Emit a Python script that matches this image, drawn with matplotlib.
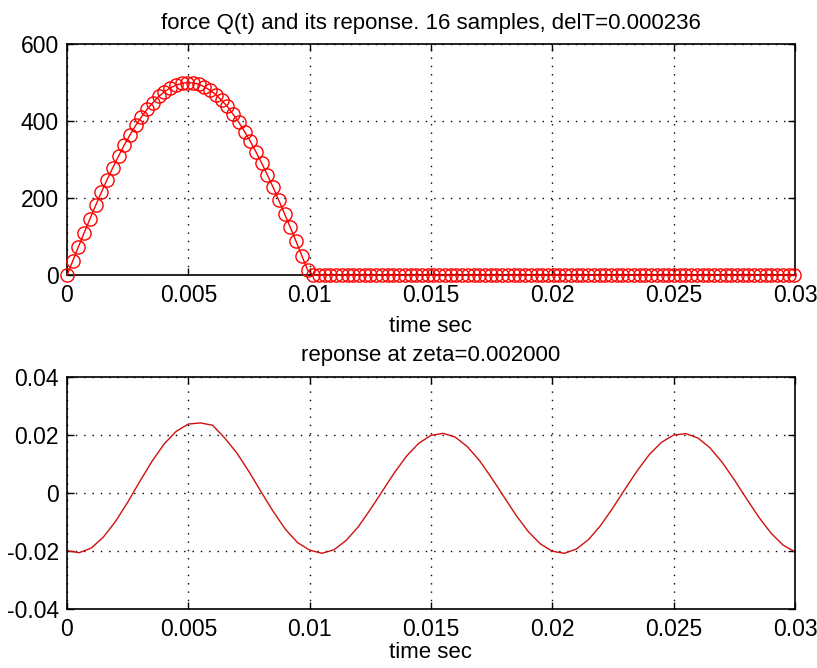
"""Half-sine force pulse Q(t) (sampled) and the damped response it drives."""
import matplotlib

matplotlib.use("Agg")
import matplotlib.pyplot as plt  # noqa: E402
import numpy as np  # noqa: E402

# sampling of the force, as printed in the title
DT = 0.000236
N_SAMPLES = 128

# force samples during the pulse (k = 0..42), then zero to the end
Q_PULSE = [0, 37, 74, 110, 146, 181, 215, 248, 279, 309, 338, 364, 389, 411,
           431, 448, 464, 476, 486, 493, 498, 500, 499, 496, 489, 480, 469, 454,
           438, 418, 397, 373, 348, 320, 291, 260, 228, 194, 159, 124, 88, 51, 14]
Q_REST = [0] * (N_SAMPLES - len(Q_PULSE))

# response
T_RESP = [0.0000, 0.0005, 0.0010, 0.0015, 0.0020, 0.0025, 0.0030, 0.0035, 0.0040,
          0.0045, 0.0050, 0.0055, 0.0060, 0.0065, 0.0070, 0.0075, 0.0080, 0.0085,
          0.0090, 0.0095, 0.0100, 0.0105, 0.0110, 0.0115, 0.0120, 0.0125, 0.0130,
          0.0135, 0.0140, 0.0145, 0.0150, 0.0155, 0.0160, 0.0165, 0.0170, 0.0175,
          0.0180, 0.0185, 0.0190, 0.0195, 0.0200, 0.0205, 0.0210, 0.0215, 0.0220,
          0.0225, 0.0230, 0.0235, 0.0240, 0.0245, 0.0250, 0.0255, 0.0260, 0.0265,
          0.0270, 0.0275, 0.0280, 0.0285, 0.0290, 0.0295, 0.0300]
Y_RESP = [-0.0198, -0.0205, -0.0189, -0.0151, -0.0097, -0.0031, 0.0041, 0.0110,
          0.0170, 0.0214, 0.0239, 0.0243, 0.0235, 0.0191, 0.0139, 0.0075, 0.0005,
          -0.0063, -0.0124, -0.0170, -0.0196, -0.0207, -0.0195, -0.0163, -0.0116,
          -0.0056, 0.0008, 0.0072, 0.0129, 0.0173, 0.0200, 0.0207, 0.0194, 0.0161,
          0.0113, 0.0053, -0.0011, -0.0075, -0.0131, -0.0174, -0.0200, -0.0207,
          -0.0192, -0.0159, -0.0110, -0.0050, 0.0015, 0.0078, 0.0134, 0.0176,
          0.0201, 0.0206, 0.0191, 0.0157, 0.0107, 0.0047, -0.0018, -0.0081,
          -0.0136, -0.0178, -0.0202]

X_TICKS = [0, 0.005, 0.01, 0.015, 0.02, 0.025, 0.03]
X_LABELS = ["0", "0.005", "0.01", "0.015", "0.02", "0.025", "0.03"]
Q_TICKS = [0, 200, 400, 600]
R_TICKS = [-0.04, -0.02, 0, 0.02, 0.04]
R_LABELS = ["-0.04", "-0.02", "0", "0.02", "0.04"]

plt.rcParams["font.family"] = ["Liberation Sans", "DejaVu Sans"]
plt.rcParams["axes.unicode_minus"] = False
TXT = 16    # titles and axis labels
TICK = 16.5  # tick labels (the original bitmap digits run a bit larger)


def style(ax, labelpad):
    ax.set_xlim(0, 0.03)
    ax.set_xticks(X_TICKS)
    ax.set_xticklabels(X_LABELS)
    ax.tick_params(direction="in", length=5, width=1, top=True, right=True,
                   pad=6, labelsize=TICK)
    ax.grid(True, color="black", linestyle=(0, (1, 5)), linewidth=1)
    for s in ax.spines.values():
        s.set_linewidth(1.2)
    ax.set_xlabel("time sec", fontsize=TXT, labelpad=labelpad)


fig = plt.figure(figsize=(8.17, 6.68), dpi=100)
ax1 = fig.add_axes([0.082, 0.588, 0.891, 0.346])
ax2 = fig.add_axes([0.082, 0.088, 0.891, 0.347])

t = np.arange(N_SAMPLES) * DT
q = np.array(Q_PULSE + Q_REST)
ax1.plot(t, q, color="red", linewidth=1, marker="o", markersize=9.5,
         markerfacecolor="none", markeredgecolor="red", clip_on=False, zorder=3)
ax1.set_ylim(0, 600)
ax1.set_yticks(Q_TICKS)
style(ax1, 7)
ax1.set_title("force Q(t) and its reponse. 16 samples, delT=0.000236",
              fontsize=TXT, pad=11)

ax2.plot(T_RESP, Y_RESP, color="#d01010", linewidth=1)
ax2.set_ylim(-0.04, 0.04)
ax2.set_yticks(R_TICKS)
ax2.set_yticklabels(R_LABELS)
style(ax2, 1)
ax2.set_title("reponse at zeta=0.002000", fontsize=TXT, pad=12)

fig.savefig("out.png", dpi=100)
